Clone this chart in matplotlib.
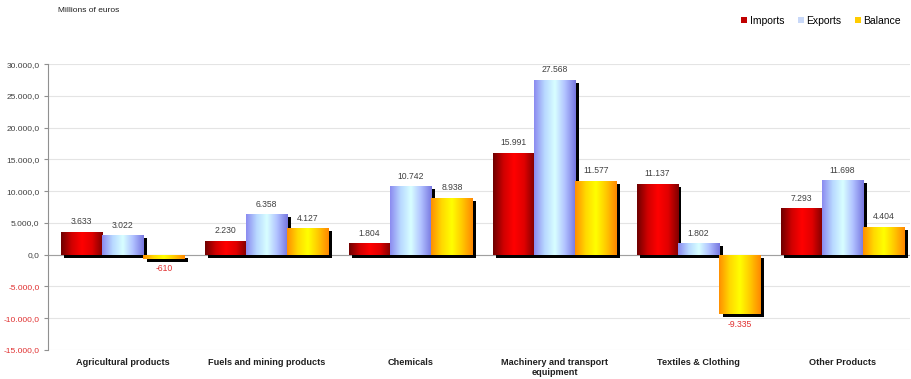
import numpy as np
import matplotlib.pyplot as plt
from matplotlib.colors import LinearSegmentedColormap
from matplotlib.transforms import ScaledTranslation
from matplotlib.patches import Patch

plt.rcParams['font.family'] = ['Liberation Sans', 'DejaVu Sans']

# Dados
categories = ['Agricultural products', 'Fuels and mining products', 'Chemicals',
              'Machinery and transport\nequipment', 'Textiles & Clothing', 'Other Products']
imports = [3633, 2230, 1804, 15991, 11137, 7293]
exports = [3022, 6358, 10742, 27568, 1802, 11698]
balance = [-610, 4127, 8938, 11577, -9335, 4404]
series_names = ['Imports', 'Exports', 'Balance']
y_ticks = [-15000, -10000, -5000, 0, 5000, 10000, 15000, 20000, 25000, 30000]

# Gradientes
grad = {
    'Imports': ['#700000', '#d00000', '#ff0000', '#e00000', '#800000'],
    'Exports': ['#8c8cf0', '#b8d8ff', '#d8ffff', '#b0c0ff', '#7878e0'],
    'Balance': ['#ff9000', '#ffd800', '#ffff00', '#ffc800', '#ff8800'],
}
legend_colors = {'Imports': '#c00000', 'Exports': '#c8d8f8', 'Balance': '#ffcc00'}

fig = plt.figure(figsize=(9.12, 3.79), dpi=100)
ax = fig.add_axes([0.0526, 0.0765, 0.9454, 0.7545])

x = np.arange(len(categories))
width = 0.287
offsets = [-width, 0, width]
shadow = ax.transData + ScaledTranslation(0.035, -0.03, fig.dpi_scale_trans)

for name, vals, off in zip(series_names, [imports, exports, balance], offsets):
    cmap = LinearSegmentedColormap.from_list(name, grad[name])
    gimg = np.linspace(0, 1, 64).reshape(1, -1)
    # sombra
    sb = ax.bar(x + off, vals, width, color='black', zorder=2)
    for p in sb:
        p.set_transform(shadow)
    bars = ax.bar(x + off, vals, width, color='none', zorder=3)
    for p, v in zip(bars, vals):
        x0 = p.get_x()
        im = ax.imshow(gimg, cmap=cmap, aspect='auto', zorder=3,
                       extent=[x0, x0 + width, min(0, v), max(0, v)])
        im.set_clip_path(p)
        if v >= 0:
            ax.text(x0 + width / 2, v + 900, f'{v:,}'.replace(',', '.'),
                    ha='center', va='bottom', fontsize=6.2, color='#404040')
        else:
            ax.text(x0 + width / 2, v - 900, f'{v:,}'.replace(',', '.'),
                    ha='center', va='top', fontsize=6.2, color='#e03030')

ax.set_xlim(-0.52, 5.47)
ax.set_ylim(-15000, 30000)
ax.set_yticks(y_ticks)
ax.set_yticklabels([f'{t:,.1f}'.replace(',', 'X').replace('.', ',').replace('X', '.')
                    for t in y_ticks], fontsize=6)
for lbl, t in zip(ax.get_yticklabels(), y_ticks):
    lbl.set_color('#e03030' if t < 0 else '#404040')
ax.set_xticks(x)
ax.set_xticklabels(categories, fontsize=6.6, fontweight='bold', color='#202020',
                   linespacing=1.1)
ax.tick_params(axis='x', length=0, pad=6)
ax.tick_params(axis='y', length=3, color='#909090', pad=3)
ax.grid(axis='y', color='#e4e4e4', linewidth=0.8, zorder=0)
ax.set_axisbelow(True)
ax.axhline(0, color='#a0a0a0', linewidth=0.8, zorder=1)
for s in ['top', 'right', 'bottom']:
    ax.spines[s].set_visible(False)
ax.spines['left'].set_color('#909090')
ax.spines['left'].set_linewidth(0.8)

fig.text(0.064, 0.972, 'Millions of euros', fontsize=6, color='#202020', va='center')

handles = [Patch(facecolor=legend_colors[n], edgecolor='none') for n in series_names]
fig.legend(handles, series_names, loc='center right', bbox_to_anchor=(0.998, 0.945),
           ncol=3, frameon=False, fontsize=7.5, handlelength=0.55, handleheight=0.55,
           handletextpad=0.25, columnspacing=1.3)

plt.savefig('out.png', dpi=100)
